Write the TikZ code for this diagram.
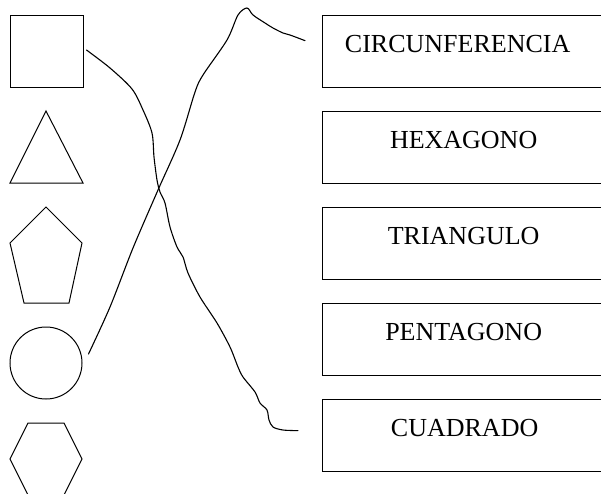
\documentclass[tikz,border=0pt]{standalone}
\usepackage{fontspec}
\setmainfont{Liberation Serif}
\usetikzlibrary{calc}
\begin{document}
\begin{tikzpicture}[x=1pt,y=-1pt,
  shp/.style={draw=black,line width=1pt},
  wbox/.style={draw=black,line width=1.3pt,minimum width=282pt,minimum height=72pt,inner sep=0pt,anchor=north west},
  lbl/.style={anchor=base,font=\fontsize{26}{28}\selectfont,inner sep=0pt},
  wire/.style={draw=black,line width=1.1pt,line cap=round,line join=round}]
\useasboundingbox (0,0) rectangle (601,493);
\clip (0,0) rectangle (601,493);
% shapes
\node[shp,rectangle,minimum width=73pt,minimum height=72pt,inner sep=0pt] (sq) at (46.5,51) {};
\draw[shp] (46,111) -- (83,183) -- (10,183) -- cycle;
\draw[shp] (46,207) -- (82,243) -- (69,303) -- (24,303) -- (10,243) -- cycle;
\node[shp,circle,minimum size=72pt,inner sep=0pt] (ci) at (46,363) {};
\draw[shp] (28,423) -- (64,423) -- (82,459) -- (64,495) -- (28,495) -- (10,459) -- cycle;
% boxes
\foreach \n/\y/\dx/\t in {b1/15/-6/CIRCUNFERENCIA, b2/111/0/HEXAGONO, b3/207/0/TRIANGULO, b4/303/0/PENTAGONO, b5/399/1/CUADRADO}{
  \node[wbox] (\n) at (322,\y) {};
  \node[lbl] (\n t) at ($(\n.north)+(\dx,37)$) {\t};
}
% connectors
\coordinate (a0) at ($(sq.east)+(3,-1)$);
\coordinate (a1) at ($(b5.west)+(-24,-5)$);
\draw[wire] plot[smooth,tension=0.5] coordinates {(a0) (110,68) (132,89) (143,110) (152,133) (154,157) (157,180) (160,192) (165,203) (170,227) (177,247) (183,257) (188,273) (200,297) (217,323) (230,347) (238,367) (243,377) (255,392) (260,403) (267,410) (269,420) (273,427) (283,430) (a1)};
\coordinate (c0) at ($(ci.east)+(6,-9)$);
\coordinate (c1) at ($(b1.west)+(-17,-11)$);
\draw[wire] plot[smooth,tension=0.5] coordinates {(c0) (110,307) (133,248) (158,190) (180,140) (195,92) (203,75) (227,40) (238,15) (247,8) (253,15) (265,23) (273,28) (283,33) (290,35) (c1)};
\end{tikzpicture}
\end{document}
